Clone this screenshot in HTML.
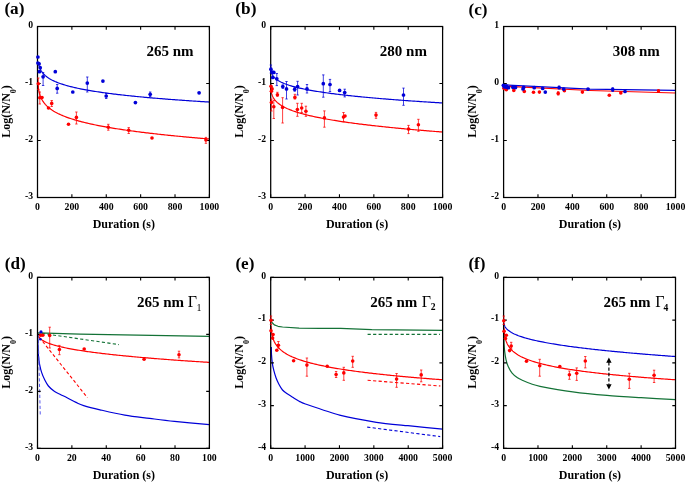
<!DOCTYPE html>
<html><head><meta charset="utf-8"><style>
html,body{margin:0;padding:0;background:#fff;}
svg{display:block;will-change:transform;}
text{font-family:"Liberation Serif", serif;}
</style></head><body>
<svg width="685" height="483" viewBox="0 0 685 483" font-family="Liberation Serif, serif">
<rect width="685" height="483" fill="#fff"/>
<path d="M38.5 63.32 L38.56 63.61 L38.62 63.9 L38.68 64.19 L38.75 64.49 L38.82 64.79 L38.9 65.09 L38.97 65.39 L39.06 65.69 L39.15 66 L39.24 66.31 L39.34 66.62 L39.45 66.94 L39.56 67.25 L39.67 67.57 L39.8 67.89 L39.93 68.22 L40.07 68.54 L40.22 68.87 L40.37 69.2 L40.53 69.54 L40.71 69.87 L40.89 70.21 L41.08 70.55 L41.29 70.9 L41.5 71.25 L41.73 71.6 L41.97 71.95 L42.23 72.3 L42.5 72.66 L42.5 72.66 L43.9 74.29 L45.31 75.63 L46.71 76.78 L48.11 77.78 L49.51 78.68 L50.92 79.49 L52.32 80.23 L53.72 80.91 L55.12 81.55 L56.53 82.14 L57.93 82.69 L59.33 83.21 L60.73 83.71 L62.14 84.18 L63.54 84.62 L64.94 85.05 L66.34 85.46 L67.75 85.85 L69.15 86.22 L70.55 86.59 L71.95 86.94 L73.36 87.27 L74.76 87.6 L76.16 87.91 L77.56 88.22 L78.97 88.51 L80.37 88.8 L81.77 89.08 L83.17 89.35 L84.58 89.62 L85.98 89.88 L87.38 90.13 L88.78 90.37 L90.19 90.61 L91.59 90.85 L92.99 91.08 L94.39 91.3 L95.8 91.52 L97.2 91.74 L98.6 91.95 L100 92.16 L101.41 92.36 L102.81 92.56 L104.21 92.75 L105.61 92.94 L107.02 93.13 L108.42 93.32 L109.82 93.5 L111.22 93.68 L112.63 93.85 L114.03 94.03 L115.43 94.2 L116.83 94.37 L118.24 94.53 L119.64 94.69 L121.04 94.86 L122.44 95.01 L123.85 95.17 L125.25 95.32 L126.65 95.48 L128.05 95.62 L129.46 95.77 L130.86 95.92 L132.26 96.06 L133.66 96.2 L135.07 96.34 L136.47 96.48 L137.87 96.62 L139.27 96.75 L140.68 96.89 L142.08 97.02 L143.48 97.15 L144.88 97.28 L146.29 97.41 L147.69 97.53 L149.09 97.66 L150.49 97.78 L151.9 97.9 L153.3 98.03 L154.7 98.14 L156.1 98.26 L157.51 98.38 L158.91 98.5 L160.31 98.61 L161.71 98.72 L163.12 98.84 L164.52 98.95 L165.92 99.06 L167.32 99.17 L168.73 99.28 L170.13 99.38 L171.53 99.49 L172.93 99.6 L174.34 99.7 L175.74 99.8 L177.14 99.91 L178.54 100.01 L179.95 100.11 L181.35 100.21 L182.75 100.31 L184.15 100.41 L185.56 100.51 L186.96 100.6 L188.36 100.7 L189.76 100.79 L191.17 100.89 L192.57 100.98 L193.97 101.08 L195.37 101.17 L196.78 101.26 L198.18 101.35 L199.58 101.44 L200.98 101.53 L202.39 101.62 L203.79 101.71 L205.19 101.79 L206.59 101.88 L208 101.97 L209.4 102.05" fill="none" stroke="#0000d8" stroke-width="1.2" stroke-linejoin="round"/>
<path d="M38.1 85.56 L38.15 86 L38.19 86.45 L38.25 86.9 L38.3 87.35 L38.36 87.82 L38.43 88.28 L38.5 88.76 L38.58 89.23 L38.66 89.72 L38.75 90.2 L38.84 90.7 L38.94 91.2 L39.05 91.7 L39.17 92.21 L39.3 92.72 L39.43 93.24 L39.58 93.77 L39.74 94.3 L39.91 94.84 L40.09 95.38 L40.29 95.93 L40.5 96.49 L40.72 97.05 L40.97 97.62 L41.23 98.2 L41.52 98.78 L41.82 99.36 L42.15 99.96 L42.5 100.56 L42.5 100.56 L43.9 102.63 L45.31 104.35 L46.71 105.83 L48.11 107.12 L49.51 108.28 L50.92 109.33 L52.32 110.28 L53.72 111.17 L55.12 111.99 L56.53 112.75 L57.93 113.47 L59.33 114.15 L60.73 114.8 L62.14 115.41 L63.54 115.99 L64.94 116.54 L66.34 117.07 L67.75 117.59 L69.15 118.08 L70.55 118.55 L71.95 119 L73.36 119.44 L74.76 119.87 L76.16 120.28 L77.56 120.68 L78.97 121.07 L80.37 121.45 L81.77 121.81 L83.17 122.17 L84.58 122.52 L85.98 122.86 L87.38 123.19 L88.78 123.51 L90.19 123.83 L91.59 124.13 L92.99 124.44 L94.39 124.73 L95.8 125.02 L97.2 125.3 L98.6 125.58 L100 125.85 L101.41 126.12 L102.81 126.38 L104.21 126.64 L105.61 126.89 L107.02 127.14 L108.42 127.39 L109.82 127.63 L111.22 127.86 L112.63 128.09 L114.03 128.32 L115.43 128.55 L116.83 128.77 L118.24 128.99 L119.64 129.2 L121.04 129.42 L122.44 129.62 L123.85 129.83 L125.25 130.03 L126.65 130.24 L128.05 130.43 L129.46 130.63 L130.86 130.82 L132.26 131.01 L133.66 131.2 L135.07 131.39 L136.47 131.57 L137.87 131.75 L139.27 131.93 L140.68 132.11 L142.08 132.28 L143.48 132.45 L144.88 132.63 L146.29 132.79 L147.69 132.96 L149.09 133.13 L150.49 133.29 L151.9 133.45 L153.3 133.61 L154.7 133.77 L156.1 133.93 L157.51 134.09 L158.91 134.24 L160.31 134.39 L161.71 134.54 L163.12 134.69 L164.52 134.84 L165.92 134.99 L167.32 135.13 L168.73 135.28 L170.13 135.42 L171.53 135.56 L172.93 135.7 L174.34 135.84 L175.74 135.98 L177.14 136.11 L178.54 136.25 L179.95 136.38 L181.35 136.52 L182.75 136.65 L184.15 136.78 L185.56 136.91 L186.96 137.04 L188.36 137.17 L189.76 137.29 L191.17 137.42 L192.57 137.55 L193.97 137.67 L195.37 137.79 L196.78 137.91 L198.18 138.04 L199.58 138.16 L200.98 138.28 L202.39 138.39 L203.79 138.51 L205.19 138.63 L206.59 138.74 L208 138.86 L209.4 138.97" fill="none" stroke="#ff0000" stroke-width="1.2" stroke-linejoin="round"/>
<path d="M271.3 71.82 L271.35 72 L271.39 72.18 L271.45 72.37 L271.5 72.57 L271.56 72.76 L271.63 72.96 L271.7 73.17 L271.78 73.37 L271.86 73.58 L271.95 73.8 L272.04 74.02 L272.14 74.24 L272.25 74.47 L272.37 74.7 L272.5 74.94 L272.63 75.18 L272.78 75.42 L272.94 75.67 L273.11 75.93 L273.29 76.19 L273.49 76.45 L273.7 76.72 L273.92 77 L274.17 77.28 L274.43 77.56 L274.72 77.85 L275.02 78.14 L275.35 78.45 L275.7 78.75 L275.7 78.75 L277.1 79.83 L278.51 80.75 L279.91 81.55 L281.31 82.26 L282.71 82.9 L284.12 83.5 L285.52 84.04 L286.92 84.55 L288.32 85.03 L289.73 85.48 L291.13 85.91 L292.53 86.31 L293.93 86.7 L295.34 87.07 L296.74 87.42 L298.14 87.76 L299.54 88.08 L300.95 88.4 L302.35 88.7 L303.75 89 L305.15 89.28 L306.56 89.56 L307.96 89.83 L309.36 90.09 L310.76 90.35 L312.17 90.59 L313.57 90.83 L314.97 91.07 L316.37 91.3 L317.78 91.53 L319.18 91.75 L320.58 91.96 L321.98 92.17 L323.39 92.38 L324.79 92.58 L326.19 92.78 L327.59 92.98 L329 93.17 L330.4 93.35 L331.8 93.54 L333.2 93.72 L334.61 93.9 L336.01 94.08 L337.41 94.25 L338.81 94.42 L340.22 94.59 L341.62 94.75 L343.02 94.91 L344.42 95.07 L345.83 95.23 L347.23 95.39 L348.63 95.54 L350.03 95.69 L351.44 95.84 L352.84 95.99 L354.24 96.14 L355.64 96.28 L357.05 96.42 L358.45 96.56 L359.85 96.7 L361.25 96.84 L362.66 96.98 L364.06 97.11 L365.46 97.24 L366.86 97.37 L368.27 97.5 L369.67 97.63 L371.07 97.76 L372.47 97.89 L373.88 98.01 L375.28 98.13 L376.68 98.26 L378.08 98.38 L379.49 98.5 L380.89 98.61 L382.29 98.73 L383.69 98.85 L385.1 98.96 L386.5 99.08 L387.9 99.19 L389.3 99.3 L390.71 99.41 L392.11 99.52 L393.51 99.63 L394.91 99.74 L396.32 99.85 L397.72 99.96 L399.12 100.06 L400.52 100.17 L401.93 100.27 L403.33 100.37 L404.73 100.48 L406.13 100.58 L407.54 100.68 L408.94 100.78 L410.34 100.88 L411.74 100.98 L413.15 101.07 L414.55 101.17 L415.95 101.27 L417.35 101.36 L418.76 101.46 L420.16 101.55 L421.56 101.65 L422.96 101.74 L424.37 101.83 L425.77 101.92 L427.17 102.01 L428.57 102.1 L429.98 102.19 L431.38 102.28 L432.78 102.37 L434.18 102.46 L435.59 102.55 L436.99 102.63 L438.39 102.72 L439.79 102.81 L441.2 102.89 L442.6 102.98" fill="none" stroke="#0000d8" stroke-width="1.2" stroke-linejoin="round"/>
<path d="M271.3 91.89 L271.35 92.13 L271.39 92.37 L271.45 92.62 L271.5 92.87 L271.56 93.13 L271.63 93.39 L271.7 93.66 L271.78 93.93 L271.86 94.21 L271.95 94.49 L272.04 94.77 L272.14 95.07 L272.25 95.36 L272.37 95.67 L272.5 95.98 L272.63 96.29 L272.78 96.61 L272.94 96.94 L273.11 97.27 L273.29 97.6 L273.49 97.95 L273.7 98.3 L273.92 98.66 L274.17 99.02 L274.43 99.39 L274.72 99.77 L275.02 100.15 L275.35 100.54 L275.7 100.94 L275.7 100.94 L277.1 102.34 L278.51 103.52 L279.91 104.56 L281.31 105.48 L282.71 106.31 L284.12 107.08 L285.52 107.78 L286.92 108.44 L288.32 109.06 L289.73 109.64 L291.13 110.18 L292.53 110.71 L293.93 111.2 L295.34 111.68 L296.74 112.13 L298.14 112.57 L299.54 112.99 L300.95 113.39 L302.35 113.78 L303.75 114.16 L305.15 114.53 L306.56 114.88 L307.96 115.23 L309.36 115.57 L310.76 115.89 L312.17 116.21 L313.57 116.52 L314.97 116.82 L316.37 117.12 L317.78 117.41 L319.18 117.69 L320.58 117.96 L321.98 118.23 L323.39 118.5 L324.79 118.76 L326.19 119.01 L327.59 119.26 L329 119.51 L330.4 119.75 L331.8 119.99 L333.2 120.22 L334.61 120.45 L336.01 120.67 L337.41 120.89 L338.81 121.11 L340.22 121.33 L341.62 121.54 L343.02 121.75 L344.42 121.95 L345.83 122.15 L347.23 122.35 L348.63 122.55 L350.03 122.74 L351.44 122.93 L352.84 123.12 L354.24 123.31 L355.64 123.49 L357.05 123.68 L358.45 123.86 L359.85 124.03 L361.25 124.21 L362.66 124.38 L364.06 124.55 L365.46 124.72 L366.86 124.89 L368.27 125.06 L369.67 125.22 L371.07 125.38 L372.47 125.54 L373.88 125.7 L375.28 125.86 L376.68 126.02 L378.08 126.17 L379.49 126.32 L380.89 126.47 L382.29 126.62 L383.69 126.77 L385.1 126.92 L386.5 127.07 L387.9 127.21 L389.3 127.35 L390.71 127.49 L392.11 127.64 L393.51 127.77 L394.91 127.91 L396.32 128.05 L397.72 128.19 L399.12 128.32 L400.52 128.45 L401.93 128.59 L403.33 128.72 L404.73 128.85 L406.13 128.98 L407.54 129.11 L408.94 129.23 L410.34 129.36 L411.74 129.49 L413.15 129.61 L414.55 129.73 L415.95 129.86 L417.35 129.98 L418.76 130.1 L420.16 130.22 L421.56 130.34 L422.96 130.46 L424.37 130.58 L425.77 130.69 L427.17 130.81 L428.57 130.92 L429.98 131.04 L431.38 131.15 L432.78 131.26 L434.18 131.38 L435.59 131.49 L436.99 131.6 L438.39 131.71 L439.79 131.82 L441.2 131.93 L442.6 132.04" fill="none" stroke="#ff0000" stroke-width="1.2" stroke-linejoin="round"/>
<path d="M504.2 84.9 L590 89.1 L675.5 90.4" fill="none" stroke="#0000d8" stroke-width="1.2" stroke-linejoin="round"/>
<path d="M504.2 86.2 L590 90.5 L675.5 93" fill="none" stroke="#ff0000" stroke-width="1.2" stroke-linejoin="round"/>
<path d="M37.8 332.8 L80 334.2 L209.4 336.4" fill="none" stroke="#137236" stroke-width="1.2" stroke-linejoin="round"/>
<path d="M42 333.4 L118.9 344.6" fill="none" stroke="#137236" stroke-width="1.1" stroke-dasharray="3.2 2.3" stroke-linejoin="round"/>
<path d="M37.9 334.86 L37.94 334.98 L37.98 335.11 L38.02 335.23 L38.07 335.36 L38.12 335.5 L38.17 335.64 L38.24 335.78 L38.3 335.93 L38.38 336.08 L38.46 336.24 L38.54 336.4 L38.64 336.56 L38.74 336.74 L38.85 336.91 L38.98 337.09 L39.11 337.28 L39.26 337.47 L39.42 337.67 L39.59 337.88 L39.78 338.09 L39.99 338.31 L40.22 338.53 L40.46 338.76 L40.73 339 L41.03 339.24 L41.35 339.5 L41.7 339.76 L42.08 340.02 L42.5 340.3 L42.5 340.3 L43.9 341.13 L45.31 341.85 L46.71 342.48 L48.11 343.06 L49.51 343.58 L50.92 344.07 L52.32 344.53 L53.72 344.96 L55.12 345.36 L56.53 345.74 L57.93 346.11 L59.33 346.46 L60.73 346.79 L62.14 347.11 L63.54 347.42 L64.94 347.72 L66.34 348.01 L67.75 348.29 L69.15 348.56 L70.55 348.83 L71.95 349.08 L73.36 349.33 L74.76 349.58 L76.16 349.82 L77.56 350.05 L78.97 350.27 L80.37 350.5 L81.77 350.71 L83.17 350.92 L84.58 351.13 L85.98 351.34 L87.38 351.54 L88.78 351.73 L90.19 351.93 L91.59 352.12 L92.99 352.3 L94.39 352.49 L95.8 352.67 L97.2 352.84 L98.6 353.02 L100 353.19 L101.41 353.36 L102.81 353.53 L104.21 353.69 L105.61 353.86 L107.02 354.02 L108.42 354.18 L109.82 354.33 L111.22 354.49 L112.63 354.64 L114.03 354.79 L115.43 354.94 L116.83 355.08 L118.24 355.23 L119.64 355.37 L121.04 355.52 L122.44 355.66 L123.85 355.79 L125.25 355.93 L126.65 356.07 L128.05 356.2 L129.46 356.34 L130.86 356.47 L132.26 356.6 L133.66 356.73 L135.07 356.86 L136.47 356.98 L137.87 357.11 L139.27 357.23 L140.68 357.36 L142.08 357.48 L143.48 357.6 L144.88 357.72 L146.29 357.84 L147.69 357.96 L149.09 358.08 L150.49 358.19 L151.9 358.31 L153.3 358.42 L154.7 358.54 L156.1 358.65 L157.51 358.76 L158.91 358.87 L160.31 358.98 L161.71 359.09 L163.12 359.2 L164.52 359.31 L165.92 359.41 L167.32 359.52 L168.73 359.62 L170.13 359.73 L171.53 359.83 L172.93 359.94 L174.34 360.04 L175.74 360.14 L177.14 360.24 L178.54 360.34 L179.95 360.44 L181.35 360.54 L182.75 360.64 L184.15 360.74 L185.56 360.83 L186.96 360.93 L188.36 361.03 L189.76 361.12 L191.17 361.22 L192.57 361.31 L193.97 361.4 L195.37 361.5 L196.78 361.59 L198.18 361.68 L199.58 361.77 L200.98 361.87 L202.39 361.96 L203.79 362.05 L205.19 362.14 L206.59 362.22 L208 362.31 L209.4 362.4" fill="none" stroke="#ff0000" stroke-width="1.2" stroke-linejoin="round"/>
<path d="M39.2 337.2 L87.4 397.6" fill="none" stroke="#ff0000" stroke-width="1.1" stroke-dasharray="3.2 2.3" stroke-linejoin="round"/>
<path d="M37.7 333.6 C37.73 335.42 37.77 340.73 37.9 344.5 C38.03 348.27 38.2 352.8 38.5 356.2 C38.8 359.6 39.18 362.2 39.7 364.9 C40.22 367.6 40.77 369.92 41.6 372.4 C42.43 374.88 43.57 377.53 44.7 379.8 C45.83 382.07 46.75 384.03 48.4 386 C50.05 387.97 52.53 390.15 54.6 391.6 C56.67 393.05 58.72 393.67 60.8 394.7 C62.88 395.73 64.57 396.52 67.1 397.8 C69.63 399.08 73.23 401.1 76 402.4 C78.77 403.7 79.7 404.37 83.7 405.6 C87.7 406.83 93.15 408.22 100 409.8 C106.85 411.38 116.52 413.67 124.8 415.1 C133.08 416.53 141.42 417.35 149.7 418.4 C157.98 419.45 164.55 420.35 174.5 421.4 C184.45 422.45 203.58 424.15 209.4 424.7" fill="none" stroke="#0000d8" stroke-width="1.2" stroke-linejoin="round"/>
<path d="M38.2 334.3 L40.3 416.1" fill="none" stroke="#5a5af0" stroke-width="1.0" stroke-dasharray="3.2 2.3" stroke-linejoin="round"/>
<path d="M271 320.2 L272 322.5 L274.3 324.9 L278 326.3 L282.6 327 L299.1 328.2 L320 328.4 L340.7 328.4 L371.8 329.6 L442.6 330.3" fill="none" stroke="#137236" stroke-width="1.2" stroke-linejoin="round"/>
<path d="M367.6 334.4 L440 334.4" fill="none" stroke="#137236" stroke-width="1.1" stroke-dasharray="3.2 2.3" stroke-linejoin="round"/>
<path d="M271 325.55 L271.03 326.09 L271.06 326.63 L271.1 327.17 L271.14 327.73 L271.19 328.29 L271.24 328.85 L271.29 329.43 L271.35 330.01 L271.42 330.6 L271.49 331.2 L271.57 331.8 L271.66 332.42 L271.76 333.04 L271.87 333.67 L271.99 334.3 L272.12 334.95 L272.26 335.6 L272.42 336.27 L272.6 336.94 L272.79 337.62 L273 338.3 L273.24 339 L273.49 339.71 L273.78 340.42 L274.09 341.14 L274.44 341.88 L274.82 342.62 L275.24 343.37 L275.7 344.14 L275.7 344.14 L277.1 346.12 L278.51 347.76 L279.91 349.16 L281.31 350.39 L282.71 351.48 L284.12 352.47 L285.52 353.37 L286.92 354.2 L288.32 354.97 L289.73 355.69 L291.13 356.36 L292.53 357 L293.93 357.6 L295.34 358.17 L296.74 358.71 L298.14 359.22 L299.54 359.72 L300.95 360.19 L302.35 360.65 L303.75 361.09 L305.15 361.51 L306.56 361.92 L307.96 362.31 L309.36 362.69 L310.76 363.06 L312.17 363.42 L313.57 363.77 L314.97 364.11 L316.37 364.44 L317.78 364.76 L319.18 365.07 L320.58 365.38 L321.98 365.67 L323.39 365.96 L324.79 366.25 L326.19 366.53 L327.59 366.8 L329 367.06 L330.4 367.32 L331.8 367.58 L333.2 367.83 L334.61 368.07 L336.01 368.31 L337.41 368.55 L338.81 368.78 L340.22 369.01 L341.62 369.23 L343.02 369.45 L344.42 369.67 L345.83 369.88 L347.23 370.09 L348.63 370.3 L350.03 370.5 L351.44 370.7 L352.84 370.9 L354.24 371.09 L355.64 371.28 L357.05 371.47 L358.45 371.65 L359.85 371.84 L361.25 372.02 L362.66 372.2 L364.06 372.37 L365.46 372.55 L366.86 372.72 L368.27 372.89 L369.67 373.05 L371.07 373.22 L372.47 373.38 L373.88 373.54 L375.28 373.7 L376.68 373.86 L378.08 374.01 L379.49 374.17 L380.89 374.32 L382.29 374.47 L383.69 374.62 L385.1 374.77 L386.5 374.91 L387.9 375.06 L389.3 375.2 L390.71 375.34 L392.11 375.48 L393.51 375.62 L394.91 375.76 L396.32 375.89 L397.72 376.03 L399.12 376.16 L400.52 376.29 L401.93 376.42 L403.33 376.55 L404.73 376.68 L406.13 376.81 L407.54 376.93 L408.94 377.06 L410.34 377.18 L411.74 377.3 L413.15 377.42 L414.55 377.55 L415.95 377.66 L417.35 377.78 L418.76 377.9 L420.16 378.02 L421.56 378.13 L422.96 378.25 L424.37 378.36 L425.77 378.47 L427.17 378.59 L428.57 378.7 L429.98 378.81 L431.38 378.92 L432.78 379.03 L434.18 379.13 L435.59 379.24 L436.99 379.35 L438.39 379.45 L439.79 379.56 L441.2 379.66 L442.6 379.76" fill="none" stroke="#ff0000" stroke-width="1.2" stroke-linejoin="round"/>
<path d="M367.6 380.3 L440.4 386" fill="none" stroke="#ff0000" stroke-width="1.1" stroke-dasharray="3.2 2.3" stroke-linejoin="round"/>
<path d="M271.3 347 C271.32 347.88 271.38 352.61 271.5 354.5 C271.62 356.39 272.03 361.34 272.3 363.2 C272.57 365.06 273.37 368.71 273.8 370.4 C274.23 372.09 275.41 376.09 276 377.7 C276.59 379.31 278.14 382.76 278.9 384.2 C279.66 385.63 281.58 388.9 282.5 390 C283.42 391.1 285.62 392.76 286.8 393.6 C287.98 394.44 291.07 396.27 292.6 397.2 C294.13 398.13 298.41 400.81 299.9 401.6 C301.39 402.39 300.77 402.41 305.4 404 C310.03 405.59 331.32 413.06 339.6 415.2 C347.88 417.33 368.43 421.07 376.4 422.3 C384.37 423.53 400.18 424.91 407.9 425.7 C415.62 426.49 438.55 428.7 442.6 429.1" fill="none" stroke="#0000d8" stroke-width="1.2" stroke-linejoin="round"/>
<path d="M367.2 427.1 L440.2 436.6" fill="none" stroke="#0000d8" stroke-width="1.1" stroke-dasharray="3.2 2.3" stroke-linejoin="round"/>
<path d="M503.9 323.44 L503.93 323.59 L503.96 323.75 L504 323.91 L504.04 324.08 L504.09 324.25 L504.14 324.43 L504.19 324.62 L504.25 324.81 L504.32 325.01 L504.39 325.21 L504.47 325.42 L504.56 325.64 L504.66 325.86 L504.77 326.09 L504.89 326.33 L505.02 326.58 L505.16 326.83 L505.32 327.1 L505.5 327.37 L505.69 327.65 L505.9 327.94 L506.14 328.23 L506.39 328.54 L506.68 328.86 L506.99 329.19 L507.34 329.53 L507.72 329.87 L508.14 330.23 L508.6 330.61 L508.6 330.61 L510 331.61 L511.41 332.47 L512.81 333.24 L514.21 333.93 L515.61 334.56 L517.02 335.14 L518.42 335.69 L519.82 336.2 L521.22 336.68 L522.63 337.13 L524.03 337.57 L525.43 337.98 L526.83 338.38 L528.24 338.76 L529.64 339.13 L531.04 339.48 L532.44 339.82 L533.85 340.15 L535.25 340.47 L536.65 340.78 L538.05 341.08 L539.46 341.38 L540.86 341.66 L542.26 341.94 L543.66 342.21 L545.07 342.48 L546.47 342.74 L547.87 342.99 L549.27 343.24 L550.68 343.49 L552.08 343.73 L553.48 343.96 L554.88 344.19 L556.29 344.42 L557.69 344.64 L559.09 344.86 L560.49 345.07 L561.9 345.28 L563.3 345.49 L564.7 345.69 L566.1 345.89 L567.51 346.09 L568.91 346.29 L570.31 346.48 L571.71 346.67 L573.12 346.85 L574.52 347.04 L575.92 347.22 L577.32 347.4 L578.73 347.58 L580.13 347.75 L581.53 347.93 L582.93 348.1 L584.34 348.27 L585.74 348.43 L587.14 348.6 L588.54 348.76 L589.95 348.92 L591.35 349.08 L592.75 349.24 L594.15 349.4 L595.56 349.55 L596.96 349.7 L598.36 349.85 L599.76 350 L601.17 350.15 L602.57 350.3 L603.97 350.44 L605.37 350.59 L606.78 350.73 L608.18 350.87 L609.58 351.01 L610.98 351.15 L612.39 351.29 L613.79 351.43 L615.19 351.56 L616.59 351.7 L618 351.83 L619.4 351.96 L620.8 352.09 L622.2 352.22 L623.61 352.35 L625.01 352.48 L626.41 352.61 L627.81 352.73 L629.22 352.86 L630.62 352.98 L632.02 353.11 L633.42 353.23 L634.83 353.35 L636.23 353.47 L637.63 353.59 L639.03 353.71 L640.44 353.83 L641.84 353.94 L643.24 354.06 L644.64 354.18 L646.05 354.29 L647.45 354.41 L648.85 354.52 L650.25 354.63 L651.66 354.74 L653.06 354.85 L654.46 354.97 L655.86 355.08 L657.27 355.18 L658.67 355.29 L660.07 355.4 L661.47 355.51 L662.88 355.61 L664.28 355.72 L665.68 355.83 L667.08 355.93 L668.49 356.03 L669.89 356.14 L671.29 356.24 L672.69 356.34 L674.1 356.44 L675.5 356.55" fill="none" stroke="#0000d8" stroke-width="1.2" stroke-linejoin="round"/>
<path d="M503.9 327.32 L503.93 327.88 L503.96 328.44 L504 329.01 L504.04 329.59 L504.09 330.17 L504.14 330.76 L504.19 331.36 L504.25 331.96 L504.32 332.57 L504.39 333.18 L504.47 333.8 L504.56 334.43 L504.66 335.06 L504.77 335.71 L504.89 336.35 L505.02 337.01 L505.16 337.67 L505.32 338.34 L505.5 339.01 L505.69 339.7 L505.9 340.39 L506.14 341.09 L506.39 341.79 L506.68 342.5 L506.99 343.22 L507.34 343.95 L507.72 344.69 L508.14 345.43 L508.6 346.18 L508.6 346.18 L510 348.13 L511.41 349.73 L512.81 351.1 L514.21 352.28 L515.61 353.34 L517.02 354.29 L518.42 355.16 L519.82 355.95 L521.22 356.69 L522.63 357.38 L524.03 358.02 L525.43 358.63 L526.83 359.2 L528.24 359.74 L529.64 360.25 L531.04 360.74 L532.44 361.21 L533.85 361.66 L535.25 362.09 L536.65 362.5 L538.05 362.9 L539.46 363.28 L540.86 363.65 L542.26 364.01 L543.66 364.36 L545.07 364.7 L546.47 365.02 L547.87 365.34 L549.27 365.65 L550.68 365.95 L552.08 366.24 L553.48 366.53 L554.88 366.8 L556.29 367.07 L557.69 367.34 L559.09 367.6 L560.49 367.85 L561.9 368.1 L563.3 368.34 L564.7 368.58 L566.1 368.81 L567.51 369.04 L568.91 369.26 L570.31 369.48 L571.71 369.69 L573.12 369.9 L574.52 370.11 L575.92 370.32 L577.32 370.52 L578.73 370.71 L580.13 370.91 L581.53 371.1 L582.93 371.28 L584.34 371.47 L585.74 371.65 L587.14 371.83 L588.54 372 L589.95 372.18 L591.35 372.35 L592.75 372.52 L594.15 372.68 L595.56 372.85 L596.96 373.01 L598.36 373.17 L599.76 373.33 L601.17 373.48 L602.57 373.64 L603.97 373.79 L605.37 373.94 L606.78 374.09 L608.18 374.23 L609.58 374.38 L610.98 374.52 L612.39 374.66 L613.79 374.8 L615.19 374.94 L616.59 375.07 L618 375.21 L619.4 375.34 L620.8 375.48 L622.2 375.61 L623.61 375.74 L625.01 375.86 L626.41 375.99 L627.81 376.11 L629.22 376.24 L630.62 376.36 L632.02 376.48 L633.42 376.6 L634.83 376.72 L636.23 376.84 L637.63 376.96 L639.03 377.07 L640.44 377.19 L641.84 377.3 L643.24 377.42 L644.64 377.53 L646.05 377.64 L647.45 377.75 L648.85 377.86 L650.25 377.96 L651.66 378.07 L653.06 378.18 L654.46 378.28 L655.86 378.39 L657.27 378.49 L658.67 378.59 L660.07 378.7 L661.47 378.8 L662.88 378.9 L664.28 379 L665.68 379.1 L667.08 379.19 L668.49 379.29 L669.89 379.39 L671.29 379.48 L672.69 379.58 L674.1 379.67 L675.5 379.77" fill="none" stroke="#ff0000" stroke-width="1.2" stroke-linejoin="round"/>
<path d="M503.9 336 C503.91 337 503.89 341.43 504 343.5 C504.11 345.57 504.43 349.35 504.7 351.5 C504.97 353.65 505.55 357.63 506 359.6 C506.45 361.57 507.29 364.5 508.1 366.3 C508.91 368.1 510.85 371.57 512.1 373.1 C513.35 374.63 516.06 376.81 517.5 377.8 C518.94 378.79 521.1 379.7 522.9 380.5 C524.7 381.3 528.72 383.03 531 383.8 C533.28 384.57 534.43 385.23 540 386.3 C545.57 387.37 563.87 390.59 572.8 391.8 C581.73 393.01 597.89 394.61 607 395.4 C616.11 396.19 631.97 397.14 641.1 397.7 C650.23 398.26 670.91 399.35 675.5 399.6" fill="none" stroke="#137236" stroke-width="1.2" stroke-linejoin="round"/>
<path d="M37.5 26.5 v3.2 M37.5 197.5 v-3.2 M71.88 26.5 v3.2 M71.88 197.5 v-3.2 M106.26 26.5 v3.2 M106.26 197.5 v-3.2 M140.64 26.5 v3.2 M140.64 197.5 v-3.2 M175.02 26.5 v3.2 M175.02 197.5 v-3.2 M209.4 26.5 v3.2 M209.4 197.5 v-3.2 M37.5 26.5 h3.2 M209.4 26.5 h-3.2 M37.5 83.5 h3.2 M209.4 83.5 h-3.2 M37.5 140.5 h3.2 M209.4 140.5 h-3.2 M37.5 197.5 h3.2 M209.4 197.5 h-3.2 " stroke="#000" stroke-width="1.1" fill="none"/>
<rect x="37.5" y="26.5" width="171.9" height="171" fill="none" stroke="#000" stroke-width="1.25"/>
<text x="37.5" y="210.35" font-size="9.8" text-anchor="middle" font-weight="bold">0</text>
<text x="71.88" y="210.35" font-size="9.8" text-anchor="middle" font-weight="bold">200</text>
<text x="106.26" y="210.35" font-size="9.8" text-anchor="middle" font-weight="bold">400</text>
<text x="140.64" y="210.35" font-size="9.8" text-anchor="middle" font-weight="bold">600</text>
<text x="175.02" y="210.35" font-size="9.8" text-anchor="middle" font-weight="bold">800</text>
<text x="209.4" y="210.35" font-size="9.8" text-anchor="middle" font-weight="bold">1000</text>
<text x="33" y="27.75" font-size="9.7" text-anchor="end" font-weight="bold">0</text>
<text x="33" y="84.75" font-size="9.7" text-anchor="end" font-weight="bold">-1</text>
<text x="33" y="141.75" font-size="9.7" text-anchor="end" font-weight="bold">-2</text>
<text x="33" y="198.75" font-size="9.7" text-anchor="end" font-weight="bold">-3</text>
<text x="123.85" y="227.7" font-size="12" text-anchor="middle" font-weight="bold">Duration (s)</text>
<text transform="translate(10.1 111.5) rotate(-90)" font-size="12" font-weight="bold" text-anchor="middle">Log(N/N<tspan font-size="8" dy="5.6">0</tspan><tspan dy="-5.6">)</tspan></text>
<path d="M270.7 26.5 v3.2 M270.7 197.5 v-3.2 M305.08 26.5 v3.2 M305.08 197.5 v-3.2 M339.46 26.5 v3.2 M339.46 197.5 v-3.2 M373.84 26.5 v3.2 M373.84 197.5 v-3.2 M408.22 26.5 v3.2 M408.22 197.5 v-3.2 M442.6 26.5 v3.2 M442.6 197.5 v-3.2 M270.7 26.5 h3.2 M442.6 26.5 h-3.2 M270.7 83.5 h3.2 M442.6 83.5 h-3.2 M270.7 140.5 h3.2 M442.6 140.5 h-3.2 M270.7 197.5 h3.2 M442.6 197.5 h-3.2 " stroke="#000" stroke-width="1.1" fill="none"/>
<rect x="270.7" y="26.5" width="171.9" height="171" fill="none" stroke="#000" stroke-width="1.25"/>
<text x="270.7" y="210.35" font-size="9.8" text-anchor="middle" font-weight="bold">0</text>
<text x="305.08" y="210.35" font-size="9.8" text-anchor="middle" font-weight="bold">200</text>
<text x="339.46" y="210.35" font-size="9.8" text-anchor="middle" font-weight="bold">400</text>
<text x="373.84" y="210.35" font-size="9.8" text-anchor="middle" font-weight="bold">600</text>
<text x="408.22" y="210.35" font-size="9.8" text-anchor="middle" font-weight="bold">800</text>
<text x="442.6" y="210.35" font-size="9.8" text-anchor="middle" font-weight="bold">1000</text>
<text x="266.2" y="27.75" font-size="9.7" text-anchor="end" font-weight="bold">0</text>
<text x="266.2" y="84.75" font-size="9.7" text-anchor="end" font-weight="bold">-1</text>
<text x="266.2" y="141.75" font-size="9.7" text-anchor="end" font-weight="bold">-2</text>
<text x="266.2" y="198.75" font-size="9.7" text-anchor="end" font-weight="bold">-3</text>
<text x="357.05" y="227.7" font-size="12" text-anchor="middle" font-weight="bold">Duration (s)</text>
<text transform="translate(243.3 111.5) rotate(-90)" font-size="12" font-weight="bold" text-anchor="middle">Log(N/N<tspan font-size="8" dy="5.6">0</tspan><tspan dy="-5.6">)</tspan></text>
<path d="M503.6 26.5 v3.2 M503.6 197.5 v-3.2 M537.98 26.5 v3.2 M537.98 197.5 v-3.2 M572.36 26.5 v3.2 M572.36 197.5 v-3.2 M606.74 26.5 v3.2 M606.74 197.5 v-3.2 M641.12 26.5 v3.2 M641.12 197.5 v-3.2 M675.5 26.5 v3.2 M675.5 197.5 v-3.2 M503.6 26.5 h3.2 M675.5 26.5 h-3.2 M503.6 83.5 h3.2 M675.5 83.5 h-3.2 M503.6 140.5 h3.2 M675.5 140.5 h-3.2 M503.6 197.5 h3.2 M675.5 197.5 h-3.2 " stroke="#000" stroke-width="1.1" fill="none"/>
<rect x="503.6" y="26.5" width="171.9" height="171" fill="none" stroke="#000" stroke-width="1.25"/>
<text x="503.6" y="210.35" font-size="9.8" text-anchor="middle" font-weight="bold">0</text>
<text x="537.98" y="210.35" font-size="9.8" text-anchor="middle" font-weight="bold">200</text>
<text x="572.36" y="210.35" font-size="9.8" text-anchor="middle" font-weight="bold">400</text>
<text x="606.74" y="210.35" font-size="9.8" text-anchor="middle" font-weight="bold">600</text>
<text x="641.12" y="210.35" font-size="9.8" text-anchor="middle" font-weight="bold">800</text>
<text x="675.5" y="210.35" font-size="9.8" text-anchor="middle" font-weight="bold">1000</text>
<text x="499.1" y="27.75" font-size="9.7" text-anchor="end" font-weight="bold">1</text>
<text x="499.1" y="84.75" font-size="9.7" text-anchor="end" font-weight="bold">0</text>
<text x="499.1" y="141.75" font-size="9.7" text-anchor="end" font-weight="bold">-1</text>
<text x="499.1" y="198.75" font-size="9.7" text-anchor="end" font-weight="bold">-2</text>
<text x="589.95" y="227.7" font-size="12" text-anchor="middle" font-weight="bold">Duration (s)</text>
<text transform="translate(476.2 111.5) rotate(-90)" font-size="12" font-weight="bold" text-anchor="middle">Log(N/N<tspan font-size="8" dy="5.6">0</tspan><tspan dy="-5.6">)</tspan></text>
<path d="M37.5 277.4 v3.2 M37.5 448.4 v-3.2 M71.88 277.4 v3.2 M71.88 448.4 v-3.2 M106.26 277.4 v3.2 M106.26 448.4 v-3.2 M140.64 277.4 v3.2 M140.64 448.4 v-3.2 M175.02 277.4 v3.2 M175.02 448.4 v-3.2 M209.4 277.4 v3.2 M209.4 448.4 v-3.2 M37.5 277.4 h3.2 M209.4 277.4 h-3.2 M37.5 334.4 h3.2 M209.4 334.4 h-3.2 M37.5 391.4 h3.2 M209.4 391.4 h-3.2 M37.5 448.4 h3.2 M209.4 448.4 h-3.2 " stroke="#000" stroke-width="1.1" fill="none"/>
<rect x="37.5" y="277.4" width="171.9" height="171" fill="none" stroke="#000" stroke-width="1.25"/>
<text x="37.5" y="461.25" font-size="9.8" text-anchor="middle" font-weight="bold">0</text>
<text x="71.88" y="461.25" font-size="9.8" text-anchor="middle" font-weight="bold">20</text>
<text x="106.26" y="461.25" font-size="9.8" text-anchor="middle" font-weight="bold">40</text>
<text x="140.64" y="461.25" font-size="9.8" text-anchor="middle" font-weight="bold">60</text>
<text x="175.02" y="461.25" font-size="9.8" text-anchor="middle" font-weight="bold">80</text>
<text x="209.4" y="461.25" font-size="9.8" text-anchor="middle" font-weight="bold">100</text>
<text x="33" y="278.65" font-size="9.7" text-anchor="end" font-weight="bold">0</text>
<text x="33" y="335.65" font-size="9.7" text-anchor="end" font-weight="bold">-1</text>
<text x="33" y="392.65" font-size="9.7" text-anchor="end" font-weight="bold">-2</text>
<text x="33" y="449.65" font-size="9.7" text-anchor="end" font-weight="bold">-3</text>
<text x="123.85" y="478.6" font-size="12" text-anchor="middle" font-weight="bold">Duration (s)</text>
<text transform="translate(10.1 362.4) rotate(-90)" font-size="12" font-weight="bold" text-anchor="middle">Log(N/N<tspan font-size="8" dy="5.6">0</tspan><tspan dy="-5.6">)</tspan></text>
<path d="M270.7 277.4 v3.2 M270.7 448.4 v-3.2 M305.08 277.4 v3.2 M305.08 448.4 v-3.2 M339.46 277.4 v3.2 M339.46 448.4 v-3.2 M373.84 277.4 v3.2 M373.84 448.4 v-3.2 M408.22 277.4 v3.2 M408.22 448.4 v-3.2 M442.6 277.4 v3.2 M442.6 448.4 v-3.2 M270.7 277.4 h3.2 M442.6 277.4 h-3.2 M270.7 320.15 h3.2 M442.6 320.15 h-3.2 M270.7 362.9 h3.2 M442.6 362.9 h-3.2 M270.7 405.65 h3.2 M442.6 405.65 h-3.2 M270.7 448.4 h3.2 M442.6 448.4 h-3.2 " stroke="#000" stroke-width="1.1" fill="none"/>
<rect x="270.7" y="277.4" width="171.9" height="171" fill="none" stroke="#000" stroke-width="1.25"/>
<text x="270.7" y="461.25" font-size="9.8" text-anchor="middle" font-weight="bold">0</text>
<text x="305.08" y="461.25" font-size="9.8" text-anchor="middle" font-weight="bold">1000</text>
<text x="339.46" y="461.25" font-size="9.8" text-anchor="middle" font-weight="bold">2000</text>
<text x="373.84" y="461.25" font-size="9.8" text-anchor="middle" font-weight="bold">3000</text>
<text x="408.22" y="461.25" font-size="9.8" text-anchor="middle" font-weight="bold">4000</text>
<text x="442.6" y="461.25" font-size="9.8" text-anchor="middle" font-weight="bold">5000</text>
<text x="266.2" y="278.65" font-size="9.7" text-anchor="end" font-weight="bold">0</text>
<text x="266.2" y="321.4" font-size="9.7" text-anchor="end" font-weight="bold">-1</text>
<text x="266.2" y="364.15" font-size="9.7" text-anchor="end" font-weight="bold">-2</text>
<text x="266.2" y="406.9" font-size="9.7" text-anchor="end" font-weight="bold">-3</text>
<text x="266.2" y="449.65" font-size="9.7" text-anchor="end" font-weight="bold">-4</text>
<text x="357.05" y="478.6" font-size="12" text-anchor="middle" font-weight="bold">Duration (s)</text>
<text transform="translate(243.3 362.4) rotate(-90)" font-size="12" font-weight="bold" text-anchor="middle">Log(N/N<tspan font-size="8" dy="5.6">0</tspan><tspan dy="-5.6">)</tspan></text>
<path d="M503.6 277.4 v3.2 M503.6 448.4 v-3.2 M537.98 277.4 v3.2 M537.98 448.4 v-3.2 M572.36 277.4 v3.2 M572.36 448.4 v-3.2 M606.74 277.4 v3.2 M606.74 448.4 v-3.2 M641.12 277.4 v3.2 M641.12 448.4 v-3.2 M675.5 277.4 v3.2 M675.5 448.4 v-3.2 M503.6 277.4 h3.2 M675.5 277.4 h-3.2 M503.6 320.15 h3.2 M675.5 320.15 h-3.2 M503.6 362.9 h3.2 M675.5 362.9 h-3.2 M503.6 405.65 h3.2 M675.5 405.65 h-3.2 M503.6 448.4 h3.2 M675.5 448.4 h-3.2 " stroke="#000" stroke-width="1.1" fill="none"/>
<rect x="503.6" y="277.4" width="171.9" height="171" fill="none" stroke="#000" stroke-width="1.25"/>
<text x="503.6" y="461.25" font-size="9.8" text-anchor="middle" font-weight="bold">0</text>
<text x="537.98" y="461.25" font-size="9.8" text-anchor="middle" font-weight="bold">1000</text>
<text x="572.36" y="461.25" font-size="9.8" text-anchor="middle" font-weight="bold">2000</text>
<text x="606.74" y="461.25" font-size="9.8" text-anchor="middle" font-weight="bold">3000</text>
<text x="641.12" y="461.25" font-size="9.8" text-anchor="middle" font-weight="bold">4000</text>
<text x="675.5" y="461.25" font-size="9.8" text-anchor="middle" font-weight="bold">5000</text>
<text x="499.1" y="278.65" font-size="9.7" text-anchor="end" font-weight="bold">0</text>
<text x="499.1" y="321.4" font-size="9.7" text-anchor="end" font-weight="bold">-1</text>
<text x="499.1" y="364.15" font-size="9.7" text-anchor="end" font-weight="bold">-2</text>
<text x="499.1" y="406.9" font-size="9.7" text-anchor="end" font-weight="bold">-3</text>
<text x="499.1" y="449.65" font-size="9.7" text-anchor="end" font-weight="bold">-4</text>
<text x="589.95" y="478.6" font-size="12" text-anchor="middle" font-weight="bold">Duration (s)</text>
<text transform="translate(476.2 362.4) rotate(-90)" font-size="12" font-weight="bold" text-anchor="middle">Log(N/N<tspan font-size="8" dy="5.6">0</tspan><tspan dy="-5.6">)</tspan></text>
<circle cx="37.9" cy="57" r="1.85" fill="#0000d8"/>
<circle cx="37.9" cy="63" r="1.85" fill="#0000d8"/>
<circle cx="39.1" cy="63.8" r="1.85" fill="#0000d8"/>
<circle cx="40.2" cy="67.7" r="1.85" fill="#0000d8"/>
<circle cx="39.4" cy="71.7" r="1.85" fill="#0000d8"/>
<path d="M43.1 72.5 V85.5 M41.9 72.5 H44.3 M41.9 85.5 H44.3" stroke="#0000d8" stroke-width="0.75" fill="none"/>
<circle cx="43.1" cy="76.8" r="1.85" fill="#0000d8"/>
<circle cx="55.3" cy="71.7" r="1.85" fill="#0000d8"/>
<path d="M57.2 84.5 V93.2 M56 84.5 H58.4 M56 93.2 H58.4" stroke="#0000d8" stroke-width="0.75" fill="none"/>
<circle cx="57.2" cy="88.4" r="1.85" fill="#0000d8"/>
<circle cx="72.8" cy="92" r="1.85" fill="#0000d8"/>
<path d="M87.3 77 V92 M86.1 77 H88.5 M86.1 92 H88.5" stroke="#0000d8" stroke-width="0.75" fill="none"/>
<circle cx="87.3" cy="83.1" r="1.85" fill="#0000d8"/>
<circle cx="102.9" cy="81.1" r="1.85" fill="#0000d8"/>
<path d="M106.2 93.5 V98.5 M105 93.5 H107.4 M105 98.5 H107.4" stroke="#0000d8" stroke-width="0.75" fill="none"/>
<circle cx="106.2" cy="96" r="1.85" fill="#0000d8"/>
<circle cx="135.4" cy="102.6" r="1.85" fill="#0000d8"/>
<path d="M150.2 92 V96.6 M149 92 H151.4 M149 96.6 H151.4" stroke="#0000d8" stroke-width="0.75" fill="none"/>
<circle cx="150.2" cy="94.3" r="1.85" fill="#0000d8"/>
<circle cx="199.1" cy="92.8" r="1.85" fill="#0000d8"/>
<path d="M38.3 78 V89.4 M37.1 78 H39.5 M37.1 89.4 H39.5" stroke="#ff0000" stroke-width="0.75" fill="none"/>
<circle cx="38.3" cy="83.8" r="1.8" fill="#ff0000"/>
<path d="M39.8 92 V104 M38.6 92 H41 M38.6 104 H41" stroke="#ff0000" stroke-width="0.75" fill="none"/>
<circle cx="39.8" cy="97.8" r="1.8" fill="#ff0000"/>
<circle cx="42" cy="97.6" r="1.8" fill="#ff0000"/>
<circle cx="48.5" cy="108" r="1.8" fill="#ff0000"/>
<path d="M51.7 100.5 V106.5 M50.5 100.5 H52.9 M50.5 106.5 H52.9" stroke="#ff0000" stroke-width="0.75" fill="none"/>
<circle cx="51.7" cy="103.4" r="1.8" fill="#ff0000"/>
<circle cx="68.5" cy="124.3" r="1.8" fill="#ff0000"/>
<path d="M76.4 112 V124 M75.2 112 H77.6 M75.2 124 H77.6" stroke="#ff0000" stroke-width="0.75" fill="none"/>
<circle cx="76.4" cy="117.4" r="1.8" fill="#ff0000"/>
<path d="M108.3 124.3 V130.2 M107.1 124.3 H109.5 M107.1 130.2 H109.5" stroke="#ff0000" stroke-width="0.75" fill="none"/>
<circle cx="108.3" cy="127.2" r="1.8" fill="#ff0000"/>
<path d="M128.7 127.6 V133.5 M127.5 127.6 H129.9 M127.5 133.5 H129.9" stroke="#ff0000" stroke-width="0.75" fill="none"/>
<circle cx="128.7" cy="130.2" r="1.8" fill="#ff0000"/>
<circle cx="152" cy="138" r="1.8" fill="#ff0000"/>
<path d="M205.9 137.4 V143.3 M204.7 137.4 H207.1 M204.7 143.3 H207.1" stroke="#ff0000" stroke-width="0.75" fill="none"/>
<circle cx="205.9" cy="140" r="1.8" fill="#ff0000"/>
<text x="4.4" y="14.35" font-size="17.2" text-anchor="start" font-weight="bold">(a)</text>
<text x="193.6" y="56" font-size="15" text-anchor="end" font-weight="bold">265 nm</text>
<path d="M270.9 65 V73 M269.7 65 H272.1 M269.7 73 H272.1" stroke="#0000d8" stroke-width="0.75" fill="none"/>
<circle cx="270.9" cy="69.2" r="1.85" fill="#0000d8"/>
<circle cx="272.1" cy="72.1" r="1.85" fill="#0000d8"/>
<circle cx="273.8" cy="72.4" r="1.85" fill="#0000d8"/>
<circle cx="272.7" cy="77.5" r="1.85" fill="#0000d8"/>
<path d="M276.8 73.5 V85.6 M275.6 73.5 H278 M275.6 85.6 H278" stroke="#0000d8" stroke-width="0.75" fill="none"/>
<circle cx="276.8" cy="78.8" r="1.85" fill="#0000d8"/>
<path d="M282.8 84.9 V88.3 M281.6 84.9 H284 M281.6 88.3 H284" stroke="#0000d8" stroke-width="0.75" fill="none"/>
<circle cx="282.8" cy="86.6" r="1.85" fill="#0000d8"/>
<path d="M286.5 81.5 V99 M285.3 81.5 H287.7 M285.3 99 H287.7" stroke="#0000d8" stroke-width="0.75" fill="none"/>
<circle cx="286.5" cy="88.9" r="1.85" fill="#0000d8"/>
<path d="M294.7 87.3 V91.2 M293.5 87.3 H295.9 M293.5 91.2 H295.9" stroke="#0000d8" stroke-width="0.75" fill="none"/>
<circle cx="294.7" cy="89.3" r="1.85" fill="#0000d8"/>
<path d="M297.6 81.3 V95 M296.4 81.3 H298.8 M296.4 95 H298.8" stroke="#0000d8" stroke-width="0.75" fill="none"/>
<circle cx="297.6" cy="86.6" r="1.85" fill="#0000d8"/>
<path d="M307 84.5 V93 M305.8 84.5 H308.2 M305.8 93 H308.2" stroke="#0000d8" stroke-width="0.75" fill="none"/>
<circle cx="307" cy="88.9" r="1.85" fill="#0000d8"/>
<path d="M323.3 74.9 V97.2 M322.1 74.9 H324.5 M322.1 97.2 H324.5" stroke="#0000d8" stroke-width="0.75" fill="none"/>
<circle cx="323.3" cy="83.7" r="1.85" fill="#0000d8"/>
<path d="M330 79.4 V91.5 M328.8 79.4 H331.2 M328.8 91.5 H331.2" stroke="#0000d8" stroke-width="0.75" fill="none"/>
<circle cx="330" cy="84.5" r="1.85" fill="#0000d8"/>
<circle cx="339.6" cy="90.4" r="1.85" fill="#0000d8"/>
<path d="M344.7 89.2 V96.9 M343.5 89.2 H345.9 M343.5 96.9 H345.9" stroke="#0000d8" stroke-width="0.75" fill="none"/>
<circle cx="344.7" cy="92.6" r="1.85" fill="#0000d8"/>
<path d="M403.5 88.1 V105.3 M402.3 88.1 H404.7 M402.3 105.3 H404.7" stroke="#0000d8" stroke-width="0.75" fill="none"/>
<circle cx="403.5" cy="95" r="1.85" fill="#0000d8"/>
<circle cx="271" cy="86.2" r="1.8" fill="#ff0000"/>
<circle cx="272.1" cy="88.9" r="1.8" fill="#ff0000"/>
<circle cx="271.4" cy="91.2" r="1.8" fill="#ff0000"/>
<path d="M271.4 99 V111 M270.2 99 H272.6 M270.2 111 H272.6" stroke="#ff0000" stroke-width="0.75" fill="none"/>
<circle cx="271.4" cy="102.4" r="1.8" fill="#ff0000"/>
<path d="M273.8 100.4 V118.5 M272.6 100.4 H275 M272.6 118.5 H275" stroke="#ff0000" stroke-width="0.75" fill="none"/>
<circle cx="273.8" cy="106.8" r="1.8" fill="#ff0000"/>
<path d="M277.4 92.3 V96.3 M276.2 92.3 H278.6 M276.2 96.3 H278.6" stroke="#ff0000" stroke-width="0.75" fill="none"/>
<circle cx="277.4" cy="94.7" r="1.8" fill="#ff0000"/>
<path d="M282.6 97.7 V123 M281.4 97.7 H283.8 M281.4 123 H283.8" stroke="#ff0000" stroke-width="0.75" fill="none"/>
<circle cx="282.6" cy="107.4" r="1.8" fill="#ff0000"/>
<path d="M294.9 94.3 V99 M293.7 94.3 H296.1 M293.7 99 H296.1" stroke="#ff0000" stroke-width="0.75" fill="none"/>
<circle cx="294.9" cy="97.4" r="1.8" fill="#ff0000"/>
<path d="M297.4 103.3 V116.3 M296.2 103.3 H298.6 M296.2 116.3 H298.6" stroke="#ff0000" stroke-width="0.75" fill="none"/>
<circle cx="297.4" cy="109.5" r="1.8" fill="#ff0000"/>
<path d="M301.7 103.3 V112.5 M300.5 103.3 H302.9 M300.5 112.5 H302.9" stroke="#ff0000" stroke-width="0.75" fill="none"/>
<circle cx="301.7" cy="108" r="1.8" fill="#ff0000"/>
<path d="M305.9 106.2 V116.3 M304.7 106.2 H307.1 M304.7 116.3 H307.1" stroke="#ff0000" stroke-width="0.75" fill="none"/>
<circle cx="305.9" cy="111.2" r="1.8" fill="#ff0000"/>
<path d="M324.4 110.9 V127.2 M323.2 110.9 H325.6 M323.2 127.2 H325.6" stroke="#ff0000" stroke-width="0.75" fill="none"/>
<circle cx="324.4" cy="117.9" r="1.8" fill="#ff0000"/>
<path d="M343.5 112.5 V122 M342.3 112.5 H344.7 M342.3 122 H344.7" stroke="#ff0000" stroke-width="0.75" fill="none"/>
<circle cx="343.5" cy="117.1" r="1.8" fill="#ff0000"/>
<circle cx="345" cy="116" r="1.8" fill="#ff0000"/>
<path d="M376 112.4 V118.3 M374.8 112.4 H377.2 M374.8 118.3 H377.2" stroke="#ff0000" stroke-width="0.75" fill="none"/>
<circle cx="376" cy="115.1" r="1.8" fill="#ff0000"/>
<path d="M408.5 125.4 V133.6 M407.3 125.4 H409.7 M407.3 133.6 H409.7" stroke="#ff0000" stroke-width="0.75" fill="none"/>
<circle cx="408.5" cy="129.1" r="1.8" fill="#ff0000"/>
<path d="M418.4 119.3 V131.3 M417.2 119.3 H419.6 M417.2 131.3 H419.6" stroke="#ff0000" stroke-width="0.75" fill="none"/>
<circle cx="418.4" cy="124.8" r="1.8" fill="#ff0000"/>
<text x="235.3" y="14.4" font-size="17.3" text-anchor="start" font-weight="bold">(b)</text>
<text x="426.9" y="56.2" font-size="15" text-anchor="end" font-weight="bold">280 nm</text>
<circle cx="506.3" cy="89.7" r="1.8" fill="#ff0000"/>
<circle cx="503.9" cy="88.3" r="1.8" fill="#ff0000"/>
<circle cx="505.9" cy="89.1" r="1.8" fill="#ff0000"/>
<circle cx="513.8" cy="90.4" r="1.8" fill="#ff0000"/>
<circle cx="524.3" cy="91.4" r="1.8" fill="#ff0000"/>
<circle cx="533.5" cy="92.3" r="1.8" fill="#ff0000"/>
<circle cx="539.4" cy="92.1" r="1.8" fill="#ff0000"/>
<path d="M558.2 91.8 V95 M557 91.8 H559.4 M557 95 H559.4" stroke="#ff0000" stroke-width="0.75" fill="none"/>
<circle cx="558.2" cy="93.4" r="1.8" fill="#ff0000"/>
<circle cx="564.4" cy="90.8" r="1.8" fill="#ff0000"/>
<circle cx="582.4" cy="92.1" r="1.8" fill="#ff0000"/>
<circle cx="609.3" cy="95.2" r="1.8" fill="#ff0000"/>
<circle cx="620.8" cy="92.9" r="1.8" fill="#ff0000"/>
<circle cx="658.5" cy="90.8" r="1.8" fill="#ff0000"/>
<circle cx="503.4" cy="85.3" r="1.85" fill="#0000d8"/>
<circle cx="504.2" cy="86.8" r="1.85" fill="#0000d8"/>
<circle cx="506.5" cy="86.2" r="1.85" fill="#0000d8"/>
<circle cx="507.3" cy="87.5" r="1.85" fill="#0000d8"/>
<circle cx="512.9" cy="87.3" r="1.85" fill="#0000d8"/>
<circle cx="515.5" cy="87.6" r="1.85" fill="#0000d8"/>
<circle cx="504.6" cy="86" r="1.85" fill="#0000d8"/>
<circle cx="505.9" cy="86.8" r="1.85" fill="#0000d8"/>
<circle cx="508.5" cy="87.7" r="1.85" fill="#0000d8"/>
<circle cx="514.5" cy="87.1" r="1.85" fill="#0000d8"/>
<circle cx="523.7" cy="87.3" r="1.85" fill="#0000d8"/>
<circle cx="523" cy="89" r="1.85" fill="#0000d8"/>
<circle cx="534.2" cy="87.7" r="1.85" fill="#0000d8"/>
<circle cx="542.7" cy="88.4" r="1.85" fill="#0000d8"/>
<circle cx="545.3" cy="92.1" r="1.85" fill="#0000d8"/>
<path d="M559.1 86 V89 M557.9 86 H560.3 M557.9 89 H560.3" stroke="#0000d8" stroke-width="0.75" fill="none"/>
<circle cx="559.1" cy="87.5" r="1.85" fill="#0000d8"/>
<circle cx="563.7" cy="89.1" r="1.85" fill="#0000d8"/>
<circle cx="588" cy="89.1" r="1.85" fill="#0000d8"/>
<path d="M612.7 87.8 V91.5 M611.5 87.8 H613.9 M611.5 91.5 H613.9" stroke="#0000d8" stroke-width="0.75" fill="none"/>
<circle cx="612.7" cy="89.4" r="1.85" fill="#0000d8"/>
<circle cx="625" cy="91.5" r="1.85" fill="#0000d8"/>
<text x="468.6" y="14.7" font-size="17.1" text-anchor="start" font-weight="bold">(c)</text>
<text x="659.8" y="56.2" font-size="15" text-anchor="end" font-weight="bold">308 nm</text>
<circle cx="41" cy="331.9" r="1.6" fill="#0000d8"/>
<circle cx="40.4" cy="339.2" r="1.3" fill="#0000d8"/>
<circle cx="40.7" cy="335.3" r="1.8" fill="#ff0000"/>
<circle cx="42.8" cy="335.3" r="1.8" fill="#ff0000"/>
<path d="M49.7 327.2 V348 M48.5 327.2 H50.9 M48.5 348 H50.9" stroke="#ff0000" stroke-width="0.75" fill="none"/>
<circle cx="49.7" cy="335.5" r="1.8" fill="#ff0000"/>
<path d="M59.4 345.4 V354.7 M58.2 345.4 H60.6 M58.2 354.7 H60.6" stroke="#ff0000" stroke-width="0.75" fill="none"/>
<circle cx="59.4" cy="349.5" r="1.8" fill="#ff0000"/>
<circle cx="84.2" cy="349" r="1.8" fill="#ff0000"/>
<circle cx="144.1" cy="359.2" r="1.8" fill="#ff0000"/>
<path d="M179 351.2 V357.9 M177.8 351.2 H180.2 M177.8 357.9 H180.2" stroke="#ff0000" stroke-width="0.75" fill="none"/>
<circle cx="179" cy="354.7" r="1.8" fill="#ff0000"/>
<text x="4.7" y="268.8" font-size="17.1" text-anchor="start" font-weight="bold">(d)</text>
<text x="137" y="306.8" font-size="15" text-anchor="start" font-weight="bold">265 nm</text>
<text x="187.7" y="306.7" font-size="16" font-weight="normal">&#915;</text>
<text x="196.5" y="310.5" font-size="10" font-weight="normal">1</text>
<path d="M271 316 V324.5 M269.8 316 H272.2 M269.8 324.5 H272.2" stroke="#ff0000" stroke-width="0.75" fill="none"/>
<circle cx="271" cy="320.3" r="1.8" fill="#ff0000"/>
<circle cx="271" cy="330.7" r="1.8" fill="#ff0000"/>
<circle cx="273.1" cy="334.5" r="1.8" fill="#ff0000"/>
<circle cx="272.6" cy="338.1" r="1.8" fill="#ff0000"/>
<path d="M278.4 341.5 V348 M277.2 341.5 H279.6 M277.2 348 H279.6" stroke="#ff0000" stroke-width="0.75" fill="none"/>
<circle cx="278.4" cy="345.3" r="1.8" fill="#ff0000"/>
<circle cx="276.8" cy="350.2" r="1.8" fill="#ff0000"/>
<circle cx="293.6" cy="360.8" r="1.8" fill="#ff0000"/>
<path d="M306.9 358 V376.2 M305.7 358 H308.1 M305.7 376.2 H308.1" stroke="#ff0000" stroke-width="0.75" fill="none"/>
<circle cx="306.9" cy="365.1" r="1.8" fill="#ff0000"/>
<circle cx="327.2" cy="366.3" r="1.8" fill="#ff0000"/>
<path d="M336.1 371.5 V377.5 M334.9 371.5 H337.3 M334.9 377.5 H337.3" stroke="#ff0000" stroke-width="0.75" fill="none"/>
<circle cx="336.1" cy="374.5" r="1.8" fill="#ff0000"/>
<path d="M343.8 367.3 V380.3 M342.6 367.3 H345 M342.6 380.3 H345" stroke="#ff0000" stroke-width="0.75" fill="none"/>
<circle cx="343.8" cy="372.9" r="1.8" fill="#ff0000"/>
<path d="M352.7 356.3 V367.3 M351.5 356.3 H353.9 M351.5 367.3 H353.9" stroke="#ff0000" stroke-width="0.75" fill="none"/>
<circle cx="352.7" cy="361.1" r="1.8" fill="#ff0000"/>
<path d="M396.6 373.5 V387.3 M395.4 373.5 H397.8 M395.4 387.3 H397.8" stroke="#ff0000" stroke-width="0.75" fill="none"/>
<circle cx="396.6" cy="379.1" r="1.8" fill="#ff0000"/>
<path d="M421.2 370 V381.8 M420 370 H422.4 M420 381.8 H422.4" stroke="#ff0000" stroke-width="0.75" fill="none"/>
<circle cx="421.2" cy="374.9" r="1.8" fill="#ff0000"/>
<text x="235.4" y="268.8" font-size="17.1" text-anchor="start" font-weight="bold">(e)</text>
<text x="370.2" y="306.7" font-size="15" text-anchor="start" font-weight="bold">265 nm</text>
<text x="421.7" y="306.6" font-size="16" font-weight="normal">&#915;</text>
<text x="430.8" y="310.4" font-size="9.6" font-weight="bold">2</text>
<path d="M503.8 316 V324.5 M502.6 316 H505 M502.6 324.5 H505" stroke="#ff0000" stroke-width="0.75" fill="none"/>
<circle cx="503.8" cy="320.8" r="1.8" fill="#ff0000"/>
<circle cx="504.1" cy="331.2" r="1.8" fill="#ff0000"/>
<circle cx="506.3" cy="335.2" r="1.8" fill="#ff0000"/>
<circle cx="505.5" cy="338.5" r="1.8" fill="#ff0000"/>
<path d="M511.2 342.3 V349 M510 342.3 H512.4 M510 349 H512.4" stroke="#ff0000" stroke-width="0.75" fill="none"/>
<circle cx="511.2" cy="346.1" r="1.8" fill="#ff0000"/>
<circle cx="509.6" cy="350.6" r="1.8" fill="#ff0000"/>
<circle cx="526.5" cy="361.3" r="1.8" fill="#ff0000"/>
<path d="M539.7 359.3 V376.2 M538.5 359.3 H540.9 M538.5 376.2 H540.9" stroke="#ff0000" stroke-width="0.75" fill="none"/>
<circle cx="539.7" cy="365.8" r="1.8" fill="#ff0000"/>
<circle cx="559.8" cy="366.5" r="1.8" fill="#ff0000"/>
<path d="M569.4 371 V379.3 M568.2 371 H570.6 M568.2 379.3 H570.6" stroke="#ff0000" stroke-width="0.75" fill="none"/>
<circle cx="569.4" cy="374.7" r="1.8" fill="#ff0000"/>
<path d="M576.7 367.9 V380.4 M575.5 367.9 H577.9 M575.5 380.4 H577.9" stroke="#ff0000" stroke-width="0.75" fill="none"/>
<circle cx="576.7" cy="373.3" r="1.8" fill="#ff0000"/>
<path d="M585.3 356.5 V367.9 M584.1 356.5 H586.5 M584.1 367.9 H586.5" stroke="#ff0000" stroke-width="0.75" fill="none"/>
<circle cx="585.3" cy="361" r="1.8" fill="#ff0000"/>
<path d="M629.3 373.3 V388.4 M628.1 373.3 H630.5 M628.1 388.4 H630.5" stroke="#ff0000" stroke-width="0.75" fill="none"/>
<circle cx="629.3" cy="379.3" r="1.8" fill="#ff0000"/>
<path d="M654.1 370.2 V382.5 M652.9 370.2 H655.3 M652.9 382.5 H655.3" stroke="#ff0000" stroke-width="0.75" fill="none"/>
<circle cx="654.1" cy="375.2" r="1.8" fill="#ff0000"/>
<path d="M608.9 362 V384.5" stroke="#000" stroke-width="1.2" stroke-dasharray="3.4 2" fill="none"/>
<path d="M608.9 357.6 L606.2 362.8 L611.6 362.8 Z M608.9 389.4 L606.2 384.2 L611.6 384.2 Z" fill="#000"/>
<text x="468.4" y="268.8" font-size="17.1" text-anchor="start" font-weight="bold">(f)</text>
<text x="603.4" y="306.8" font-size="15" text-anchor="start" font-weight="bold">265 nm</text>
<text x="655.2" y="306.7" font-size="16" font-weight="normal">&#915;</text>
<text x="663.6" y="310.5" font-size="9.6" font-weight="bold">4</text>
</svg>
</body></html>
